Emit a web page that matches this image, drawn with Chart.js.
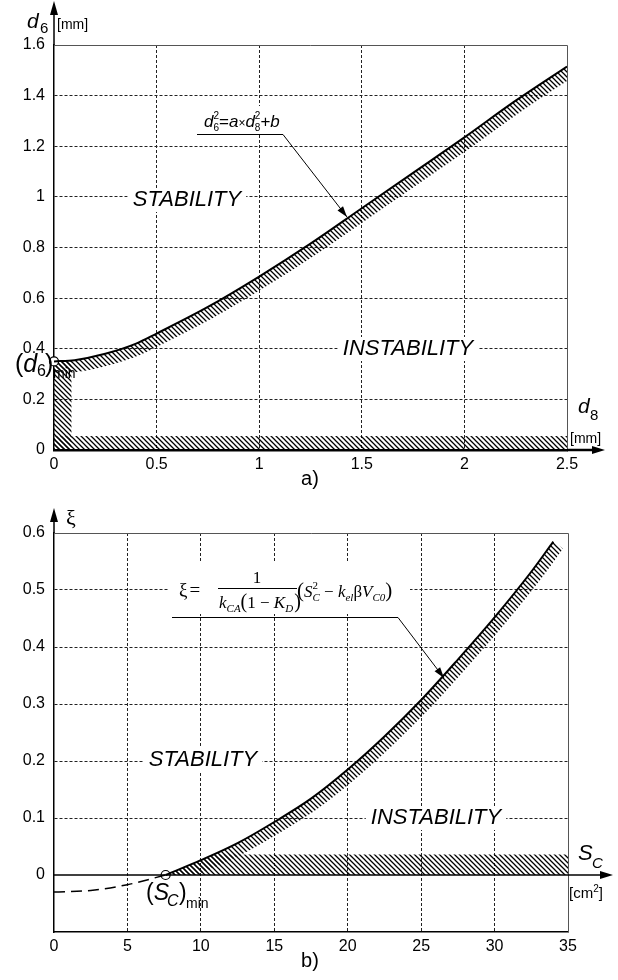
<!DOCTYPE html>
<html>
<head>
<meta charset="utf-8">
<script src="https://cdn.jsdelivr.net/npm/chart.js@4.4.1/dist/chart.umd.min.js"></script>
<style>
  html, body { margin: 0; padding: 0; background: #fff; }
  #wrap { position: relative; width: 618px; height: 980px; }
  canvas { position: absolute; left: 0; }
  #chartA { top: 0; }
  #chartB { top: 490px; }
</style>
</head>
<body>
<div id="wrap">
  <canvas id="chartA" width="618" height="490"></canvas>
  <canvas id="chartB" width="618" height="490"></canvas>
</div>
<script>
// a) d6 against d8, both in mm
const d8Values = [0, 0.1, 0.25, 0.4, 0.5, 0.75, 1, 1.25, 1.5, 1.75, 2, 2.25, 2.5];
const d6Values = [0.35, 0.355, 0.38, 0.42, 0.46, 0.565, 0.685, 0.815, 0.955, 1.095, 1.235, 1.38, 1.515];
const d6Min = 0.35;

// b) xi against S_C (cm2)
const scValues = [7.6, 10, 12.5, 15, 17.5, 20, 22.5, 25, 27.5, 30, 32.5, 34];
const xiValues = [0, 0.026, 0.056, 0.093, 0.134, 0.185, 0.243, 0.307, 0.378, 0.452, 0.532, 0.585];
const scDashed = [0, 2.5, 5, 7.6];
const xiDashed = [-0.03, -0.027, -0.017, 0];
const scMin = 7.6;

const SANS = "'Liberation Sans', Arial, sans-serif";
const SERIF = "'Liberation Serif', 'Times New Roman', serif";

function hatchPattern(ctx) {
  const c = document.createElement('canvas');
  c.width = 5; c.height = 5;
  const g = c.getContext('2d');
  g.strokeStyle = '#000';
  g.lineWidth = 1.25;
  g.beginPath();
  g.moveTo(-1, -1); g.lineTo(6, 6);
  g.moveTo(-1, 4); g.lineTo(1, 6);
  g.moveTo(4, -1); g.lineTo(6, 1);
  g.stroke();
  return ctx.createPattern(c, 'repeat');
}

// hatched band under the curve (dataset 0) plus hatched boxes, all clipped below the curve
const hatchPlugin = {
  id: 'hatch',
  beforeDatasetsDraw(chart, args, opts) {
    const { ctx, chartArea: a, scales: { x, y } } = chart;
    const meta = chart.getDatasetMeta(0);
    const line = meta.dataset;
    line.updateControlPoints(a, 'x');
    const pts = meta.data;
    const first = pts[0], last = pts[pts.length - 1];
    const y0 = y.getPixelForValue(0);
    const pat = hatchPattern(ctx);
    ctx.save();
    ctx.beginPath();
    line.path(ctx);
    ctx.lineTo(a.right, last.y);
    ctx.lineTo(a.right, y0);
    ctx.lineTo(first.x, y0);
    ctx.closePath();
    ctx.clip();
    ctx.strokeStyle = pat;
    ctx.fillStyle = pat;
    ctx.lineWidth = opts.thickness * 2;
    ctx.beginPath();
    line.path(ctx);
    ctx.stroke();
    opts.boxes.forEach(b => {
      const l = x.getPixelForValue(b[0]), r = x.getPixelForValue(b[1]);
      const t = y.getPixelForValue(b[3]), btm = y.getPixelForValue(b[2]);
      ctx.fillRect(l, t, r - l, btm - t);
    });
    ctx.restore();
  }
};

function arrowHead(ctx, tx, ty, ang, len, half) {
  const c = Math.cos(ang), s = Math.sin(ang);
  ctx.beginPath();
  ctx.moveTo(tx, ty);
  ctx.lineTo(tx - len * c + half * s, ty - len * s - half * c);
  ctx.lineTo(tx - len * c - half * s, ty - len * s + half * c);
  ctx.closePath();
  ctx.fill();
}

function runs(ctx, x, y, list) {
  list.forEach(r => {
    ctx.font = r.f;
    ctx.fillText(r.t, x, y + (r.dy || 0));
    if (!r.keep) x += ctx.measureText(r.t).width + (r.sp || 0);
  });
  return x;
}

function boxedLabel(ctx, text, cx, cy, font) {
  ctx.font = font;
  const w = ctx.measureText(text).width;
  ctx.fillStyle = '#fff';
  ctx.fillRect(cx - w / 2 - 5, cy - 12, w + 10, 24);
  ctx.fillStyle = '#000';
  ctx.textAlign = 'center';
  ctx.textBaseline = 'middle';
  ctx.fillText(text, cx, cy);
  ctx.textAlign = 'left';
  ctx.textBaseline = 'alphabetic';
}

function frame(ctx, a) {
  ctx.strokeStyle = '#555';
  ctx.lineWidth = 1;
  ctx.beginPath();
  ctx.moveTo(a.left, a.top + 0.5);
  ctx.lineTo(a.right + 0.5, a.top + 0.5);
  ctx.lineTo(a.right + 0.5, a.bottom);
  ctx.stroke();
}

function leftArrow(ctx, a, tipY) {
  ctx.strokeStyle = '#000';
  ctx.fillStyle = '#000';
  ctx.lineWidth = 1.5;
  ctx.beginPath();
  ctx.moveTo(a.left, a.top);
  ctx.lineTo(a.left, tipY + 10);
  ctx.stroke();
  arrowHead(ctx, a.left, tipY, -Math.PI / 2, 14, 4);
}

const italic = s => 'italic ' + s + 'px ' + SANS;
const plain = s => s + 'px ' + SANS;
const sItalic = s => 'italic ' + s + 'px ' + SERIF;
const sPlain = s => s + 'px ' + SERIF;

const decorA = {
  id: 'decorA',
  afterDraw(chart) {
    const { ctx, chartArea: a } = chart;
    ctx.save();
    frame(ctx, a);
    leftArrow(ctx, a, 1);
    // x axis arrow
    ctx.lineWidth = 2.5;
    ctx.beginPath();
    ctx.moveTo(a.right, a.bottom);
    ctx.lineTo(596, a.bottom);
    ctx.stroke();
    arrowHead(ctx, 605, a.bottom, 0, 13, 4);

    ctx.fillStyle = '#000';
    // axis names
    runs(ctx, 27, 28, [{ t: 'd', f: italic(21) }]);
    runs(ctx, 40, 33, [{ t: '6', f: plain(15) }]);
    runs(ctx, 57, 29, [{ t: '[mm]', f: plain(14) }]);
    runs(ctx, 578, 413, [{ t: 'd', f: italic(21) }]);
    runs(ctx, 590, 420, [{ t: '8', f: plain(15) }]);
    runs(ctx, 570, 443, [{ t: '[mm]', f: plain(14) }]);

    // (d6)min
    runs(ctx, 15, 372, [{ t: '(', f: plain(25) }, { t: 'd', f: italic(25) }]);
    runs(ctx, 37, 376, [{ t: '6', f: plain(16) }]);
    runs(ctx, 45, 372, [{ t: ')', f: plain(25) }]);
    runs(ctx, 53, 378, [{ t: 'min', f: plain(14) }]);

    boxedLabel(ctx, 'STABILITY', 187, 200, italic(22));
    boxedLabel(ctx, 'INSTABILITY', 408, 349, italic(22));

    // formula d6^2 = a x d8^2 + b
    ctx.fillStyle = '#fff';
    ctx.fillRect(198, 106, 96, 27);
    ctx.fillStyle = '#000';
    runs(ctx, 204, 127, [
      { t: 'd', f: italic(17) },
      { t: '2', f: plain(10), dy: -8, keep: true },
      { t: '6', f: plain(10), dy: 4 },
      { t: '=', f: plain(17) },
      { t: 'a', f: italic(17) },
      { t: '\u00d7', f: plain(12) },
      { t: 'd', f: italic(17) },
      { t: '2', f: plain(10), dy: -8, keep: true },
      { t: '8', f: plain(10), dy: 4 },
      { t: '+', f: plain(17) },
      { t: 'b', f: italic(17) }
    ]);
    ctx.strokeStyle = '#000';
    ctx.lineWidth = 1;
    ctx.beginPath();
    ctx.moveTo(197, 134.5);
    ctx.lineTo(283, 134.5);
    ctx.lineTo(347, 217);
    ctx.stroke();
    arrowHead(ctx, 347, 217, Math.atan2(217 - 134.5, 347 - 283), 11, 3.5);

    ctx.textAlign = 'center';
    ctx.font = plain(20);
    ctx.fillText('a)', 310, 485);
    ctx.restore();
  }
};

const decorB = {
  id: 'decorB',
  afterDraw(chart) {
    const { ctx, chartArea: a, scales: { y } } = chart;
    const y0 = y.getPixelForValue(0);
    ctx.save();
    frame(ctx, a);
    leftArrow(ctx, a, 18);
    // zero line and S_C arrow
    ctx.lineWidth = 1.5;
    ctx.beginPath();
    ctx.moveTo(a.left, y0);
    ctx.lineTo(604, y0);
    ctx.stroke();
    arrowHead(ctx, 613, y0, 0, 13, 4);

    ctx.fillStyle = '#000';
    runs(ctx, 66, 35, [{ t: '\u03be', f: sPlain(22) }]);
    runs(ctx, 578, 370, [{ t: 'S', f: italic(22) }]);
    runs(ctx, 592, 378, [{ t: 'C', f: italic(15) }]);
    runs(ctx, 569, 408, [
      { t: '[cm', f: plain(15) },
      { t: '2', f: plain(10), dy: -6 },
      { t: ']', f: plain(15) }
    ]);

    // (S_C)min
    runs(ctx, 146, 410, [{ t: '(', f: plain(23) }, { t: 'S', f: italic(23) }]);
    runs(ctx, 167, 416, [{ t: 'C', f: italic(16) }]);
    runs(ctx, 179, 410, [{ t: ')', f: plain(23) }]);
    runs(ctx, 186, 418, [{ t: 'min', f: plain(14) }]);

    boxedLabel(ctx, 'STABILITY', 203, 270, italic(22));
    boxedLabel(ctx, 'INSTABILITY', 436, 328, italic(22));

    // formula
    ctx.fillStyle = '#fff';
    ctx.fillRect(168, 72, 242, 52);
    ctx.fillStyle = '#000';
    runs(ctx, 179, 106, [{ t: '\u03be', f: sPlain(19), sp: 2 }, { t: '=', f: sPlain(19) }]);
    ctx.textAlign = 'center';
    ctx.font = sPlain(17);
    ctx.fillText('1', 257, 93);
    ctx.textAlign = 'left';
    ctx.fillRect(218, 98, 79, 1);
    runs(ctx, 219, 118, [
      { t: 'k', f: sItalic(17) },
      { t: 'CA', f: sItalic(11), dy: 4 },
      { t: '(', f: sPlain(20) },
      { t: '1 \u2212 ', f: sPlain(17) },
      { t: 'K', f: sItalic(17) },
      { t: 'D', f: sItalic(11), dy: 4, sp: 1 },
      { t: ')', f: sPlain(20) }
    ]);
    runs(ctx, 297, 107, [
      { t: '(', f: sPlain(21) },
      { t: 'S', f: sItalic(17) },
      { t: '2', f: sPlain(11), dy: -8, keep: true },
      { t: 'C', f: sItalic(11), dy: 4 },
      { t: ' \u2212 ', f: sPlain(17) },
      { t: 'k', f: sItalic(17) },
      { t: 'el', f: sItalic(11), dy: 4 },
      { t: '\u03b2', f: sPlain(17) },
      { t: 'V', f: sItalic(17) },
      { t: 'C0', f: sItalic(11), dy: 4 },
      { t: ')', f: sPlain(21) }
    ]);
    ctx.strokeStyle = '#000';
    ctx.lineWidth = 1;
    ctx.beginPath();
    ctx.moveTo(172, 127.5);
    ctx.lineTo(398, 127.5);
    ctx.lineTo(444, 188);
    ctx.stroke();
    arrowHead(ctx, 444, 188, Math.atan2(188 - 127.5, 444 - 398), 11, 3.5);

    ctx.textAlign = 'center';
    ctx.font = plain(20);
    ctx.fillText('b)', 310, 477);
    ctx.restore();
  }
};

function gridColor(hidden) {
  return c => hidden.some(v => Math.abs(c.tick.value - v) < 1e-6) ? 'rgba(0,0,0,0)' : '#222';
}

const tickFont = { family: SANS, size: 16 };
const fmt = v => String(Math.round(v * 10) / 10);

new Chart(document.getElementById('chartA'), {
  type: 'scatter',
  data: {
    datasets: [
      {
        type: 'line',
        data: d8Values.map((v, i) => ({ x: v, y: d6Values[i] })),
        borderColor: '#000',
        borderWidth: 2,
        pointRadius: 0,
        cubicInterpolationMode: 'monotone',
        fill: false
      },
      {
        data: [{ x: 0, y: d6Min }],
        pointRadius: 4.5,
        pointBackgroundColor: '#fff',
        pointBorderColor: '#000',
        pointBorderWidth: 1.2,
        clip: false
      }
    ]
  },
  options: {
    responsive: false,
    animation: false,
    events: [],
    layout: { padding: { top: 45, right: 51, bottom: 10, left: 0 } },
    plugins: {
      legend: { display: false },
      tooltip: { enabled: false },
      hatch: { thickness: 12, boxes: [[0, 0.085, 0, 0.5], [0, 2.5, 0, 0.055]] }
    },
    scales: {
      x: {
        type: 'linear', min: 0, max: 2.5,
        afterFit: s => { s.height = 30; },
        ticks: { stepSize: 0.5, color: '#000', font: tickFont, padding: 5, callback: fmt },
        grid: { color: gridColor([0, 2.5]), lineWidth: 1, drawTicks: false },
        border: { display: true, color: '#000', width: 2.5, dash: [3, 2] }
      },
      y: {
        type: 'linear', min: 0, max: 1.6,
        afterFit: s => { s.width = 54; },
        ticks: { stepSize: 0.2, color: '#000', font: tickFont, padding: 9, callback: fmt },
        grid: { color: gridColor([0, 1.6]), lineWidth: 1, drawTicks: false },
        border: { display: true, color: '#000', width: 1.5, dash: [3, 2] }
      }
    }
  },
  plugins: [hatchPlugin, decorA]
});

new Chart(document.getElementById('chartB'), {
  type: 'scatter',
  data: {
    datasets: [
      {
        type: 'line',
        data: scValues.map((v, i) => ({ x: v, y: xiValues[i] })),
        borderColor: '#000',
        borderWidth: 2,
        pointRadius: 0,
        cubicInterpolationMode: 'monotone',
        fill: false
      },
      {
        type: 'line',
        data: scDashed.map((v, i) => ({ x: v, y: xiDashed[i] })),
        borderColor: '#000',
        borderWidth: 1.5,
        borderDash: [11, 6],
        pointRadius: 0,
        cubicInterpolationMode: 'monotone',
        fill: false
      },
      {
        data: [{ x: scMin, y: 0 }],
        pointRadius: 4.5,
        pointBackgroundColor: '#fff',
        pointBorderColor: '#000',
        pointBorderWidth: 1.2,
        clip: false
      }
    ]
  },
  options: {
    responsive: false,
    animation: false,
    events: [],
    layout: { padding: { top: 43, right: 50, bottom: 18, left: 0 } },
    plugins: {
      legend: { display: false },
      tooltip: { enabled: false },
      hatch: { thickness: 12, boxes: [[scMin, 35, 0, 0.036]] }
    },
    scales: {
      x: {
        type: 'linear', min: 0, max: 35,
        afterFit: s => { s.height = 30; },
        ticks: { stepSize: 5, color: '#000', font: tickFont, padding: 5, callback: fmt },
        grid: { color: gridColor([0, 35]), lineWidth: 1, drawTicks: false },
        border: { display: true, color: '#000', width: 1.5, dash: [3, 2] }
      },
      y: {
        type: 'linear', min: -0.1, max: 0.6,
        afterFit: s => { s.width = 54; },
        ticks: {
          stepSize: 0.1, color: '#000', font: tickFont, padding: 9,
          callback: v => v < -0.05 ? '' : fmt(v)
        },
        grid: { color: gridColor([-0.1, 0, 0.6]), lineWidth: 1, drawTicks: false },
        border: { display: true, color: '#000', width: 1.5, dash: [3, 2] }
      }
    }
  },
  plugins: [hatchPlugin, decorB]
});
</script>
</body>
</html>
